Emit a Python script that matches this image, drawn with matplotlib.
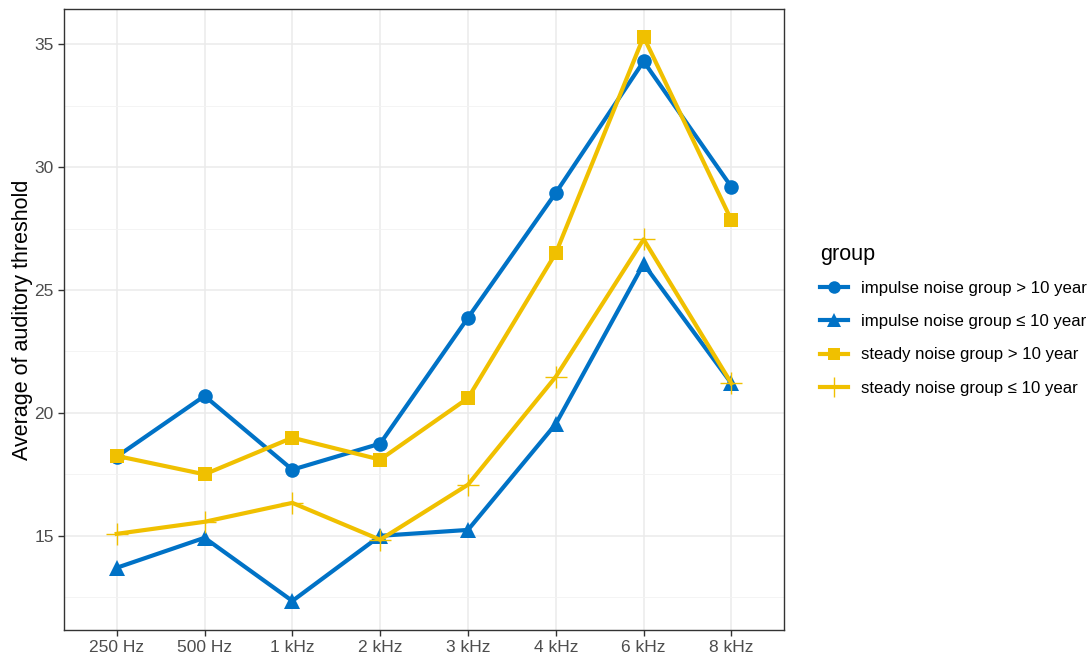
import numpy as np
import matplotlib.pyplot as plt
from matplotlib.lines import Line2D

plt.rcParams['font.family'] = ['Liberation Sans', 'DejaVu Sans']

freqs = ["250 Hz", "500 Hz", "1 kHz", "2 kHz", "3 kHz", "4 kHz", "6 kHz", "8 kHz"]

impulse_gt10 = [18.22, 20.69, 17.69, 18.75, 23.87, 28.95, 34.30, 29.19]
impulse_le10 = [13.70, 14.92, 12.35, 15.00, 15.24, 19.55, 26.06, 21.20]
steady_gt10 = [18.25, 17.50, 18.99, 18.10, 20.60, 26.50, 35.30, 27.84]
steady_le10 = [15.08, 15.57, 16.34, 14.84, 17.08, 21.47, 27.06, 21.20]

labels = ["impulse noise group > 10 year", "impulse noise group \u2264 10 year",
          "steady noise group > 10 year", "steady noise group \u2264 10 year"]

blue = "#0072C6"
yellow = "#F0C000"

fig = plt.figure(figsize=(10.91, 6.6), dpi=100)
ax = fig.add_axes([0.0587, 0.0455, 0.66, 0.9409])

x = np.arange(len(freqs))
series = [
    (impulse_gt10, blue, "o", 10.5, 0),
    (impulse_le10, blue, "^", 12, 0),
    (steady_gt10, yellow, "s", 10.5, 0),
    (steady_le10, yellow, "+", 16, 1.0),
]
for (vals, col, mk, ms, mew), lab in zip(series, labels):
    ax.plot(x, vals, color=col, linewidth=3, marker=mk, markersize=ms,
            markeredgewidth=mew, label=lab)

ax.set_xlim(-0.6, 7.6)
ax.set_ylim(11.17, 36.43)
ax.set_xticks(x)
ax.set_xticklabels(freqs)
ax.set_yticks([15, 20, 25, 30, 35])
ax.set_yticks([12.5, 17.5, 22.5, 27.5, 32.5], minor=True)
ax.tick_params(axis="both", which="major", labelsize=12.5, colors="#333333",
               labelcolor="#4D4D4D", length=4, width=1)
ax.tick_params(axis="both", which="minor", length=0)
ax.grid(True, which="major", color="#EBEBEB", linewidth=1.1)
ax.grid(True, which="minor", color="#F3F3F3", linewidth=0.6)
ax.set_axisbelow(True)
for sp in ax.spines.values():
    sp.set_color("#333333")
    sp.set_linewidth(1)
ax.set_ylabel("Average of auditory threshold", fontsize=15.5, color="black", labelpad=1)

handles = [
    Line2D([], [], color=blue, lw=3, marker="o", ms=9, mew=0),
    Line2D([], [], color=blue, lw=3, marker="^", ms=10.5, mew=0),
    Line2D([], [], color=yellow, lw=3, marker="s", ms=9, mew=0),
    Line2D([], [], color=yellow, lw=3, marker="+", ms=14, mew=1.0),
]
leg = fig.legend(handles, labels, title="group", loc="center left",
                 bbox_to_anchor=(0.7457, 0.515), frameon=False, fontsize=12.1,
                 title_fontsize=15.5, handlelength=1.65, labelspacing=1.1,
                 handletextpad=0.78, borderaxespad=0)
leg._legend_box.align = "left"
leg._legend_box.sep = 11

fig.savefig("out.png", dpi=100)
